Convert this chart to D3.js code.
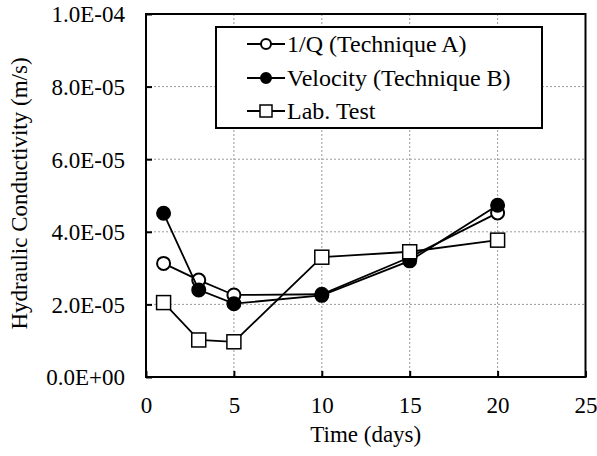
<!DOCTYPE html>
<html>
<head>
<meta charset="utf-8">
<script src="https://cdn.jsdelivr.net/npm/d3@7"></script>
<style>
  body { margin: 0; background: #fff; }
  svg text { font-family: "Liberation Serif", "Times New Roman", serif; fill: #000; }
</style>
</head>
<body>
<div id="chart"></div>
<script>
// data
var days = [1, 3, 5, 10, 15, 20];
var techA = [3.13e-5, 2.67e-5, 2.26e-5, 2.28e-5, 3.30e-5, 4.52e-5];  // 1/Q
var techB = [4.51e-5, 2.40e-5, 2.02e-5, 2.25e-5, 3.20e-5, 4.73e-5];  // velocity
var labTest = [2.05e-5, 1.02e-5, 0.97e-5, 3.30e-5, 3.45e-5, 3.77e-5];
var xTicks = [0, 5, 10, 15, 20, 25];
var yTicks = [0, 2e-5, 4e-5, 6e-5, 8e-5, 1e-4];

var seriesNames = ["1/Q (Technique A)", "Velocity (Technique B)", "Lab. Test"];
var seriesData = [techA, techB, labTest];
var markerKind = ["open", "filled", "square"];

var W = 597, H = 456;
var margin = {left: 146, top: 14, right: 11.5, bottom: 79};
var width = W - margin.left - margin.right,
    height = H - margin.top - margin.bottom;

var svg = d3.select("#chart").append("svg")
  .attr("width", W)
  .attr("height", H);

var g = svg.append("g")
  .attr("transform", "translate(" + margin.left + "," + margin.top + ")");

var x = d3.scaleLinear().domain([0, 25]).range([0, width]);
var y = d3.scaleLinear().domain([0, 1e-4]).range([height, 0]);

function sci(d) {
  if (d === 0) return "0.0E+00";
  var s = d.toExponential(1).toUpperCase();   // e.g. 2.0E-5
  var parts = s.split("E");
  var e = parseInt(parts[1], 10);
  var sign = e < 0 ? "-" : "+";
  var abs = Math.abs(e);
  return parts[0] + "E" + sign + (abs < 10 ? "0" + abs : abs);
}

// grid lines
g.append("g").selectAll("line")
  .data(xTicks.filter(function(d) { return d > 0 && d < 25; }))
  .enter().append("line")
  .attr("x1", function(d) { return x(d); })
  .attr("x2", function(d) { return x(d); })
  .attr("y1", 0).attr("y2", height)
  .attr("stroke", "#9a9a9a")
  .attr("stroke-width", 1)
  .attr("stroke-dasharray", "2,2");

g.append("g").selectAll("line")
  .data(yTicks.filter(function(d) { return d > 0 && d < 1e-4; }))
  .enter().append("line")
  .attr("y1", function(d) { return y(d); })
  .attr("y2", function(d) { return y(d); })
  .attr("x1", 0).attr("x2", width)
  .attr("stroke", "#9a9a9a")
  .attr("stroke-width", 1)
  .attr("stroke-dasharray", "2,2");

// axes
var xAxis = g.append("g")
  .attr("transform", "translate(0," + height + ")")
  .call(d3.axisBottom(x).tickValues(xTicks).tickSize(-6).tickSizeOuter(0).tickFormat(d3.format("d")));
xAxis.attr("font-size", null).attr("font-family", null);
xAxis.select(".domain").remove();
xAxis.selectAll("line").attr("stroke", "#000").attr("stroke-width", 2);
xAxis.selectAll("text")
  .attr("y", 36).attr("dy", 0)
  .style("font-size", "23px");

var yAxis = g.append("g")
  .call(d3.axisLeft(y).tickValues(yTicks).tickSize(-6).tickSizeOuter(0).tickFormat(sci));
yAxis.attr("font-size", null).attr("font-family", null);
yAxis.select(".domain").remove();
yAxis.selectAll("line").attr("stroke", "#000").attr("stroke-width", 2);
yAxis.selectAll("text")
  .attr("x", -21).attr("dy", "0.34em")
  .style("font-size", "23px");

// plot frame
g.append("rect")
  .attr("width", width).attr("height", height)
  .attr("fill", "none")
  .attr("stroke", "#000")
  .attr("stroke-width", 2);

// axis titles
svg.append("text")
  .attr("x", margin.left + width / 2)
  .attr("y", 442)
  .attr("text-anchor", "middle")
  .style("font-size", "23px")
  .text("Time (days)");

svg.append("text")
  .attr("transform", "translate(27," + (margin.top + height / 2 - 2) + ") rotate(-90)")
  .attr("text-anchor", "middle")
  .style("font-size", "23px")
  .text("Hydraulic Conductivity (m/s)");

// series
var line = d3.line()
  .x(function(d) { return x(d[0]); })
  .y(function(d) { return y(d[1]); });

function drawMarker(sel, kind, cx, cy, r) {
  if (kind === "square") {
    sel.append("rect")
      .attr("x", cx - r).attr("y", cy - r)
      .attr("width", 2 * r).attr("height", 2 * r)
      .attr("fill", "#fff").attr("stroke", "#000").attr("stroke-width", 1.5);
  } else {
    sel.append("circle")
      .attr("cx", cx).attr("cy", cy).attr("r", r)
      .attr("fill", kind === "filled" ? "#000" : "#fff")
      .attr("stroke", "#000").attr("stroke-width", 2);
  }
}

seriesData.forEach(function(vals, i) {
  var pts = days.map(function(d, j) { return [d, vals[j]]; });
  var sg = g.append("g").attr("class", "series");
  sg.append("path")
    .datum(pts)
    .attr("d", line)
    .attr("fill", "none")
    .attr("stroke", "#000")
    .attr("stroke-width", 1.8);
  pts.forEach(function(p) {
    drawMarker(sg, markerKind[i], x(p[0]), y(p[1]), markerKind[i] === "square" ? 7 : 6.5);
  });
});

// legend
var legend = svg.append("g").attr("transform", "translate(216,27)");
legend.append("rect")
  .attr("width", 326).attr("height", 101)
  .attr("fill", "#fff")
  .attr("stroke", "#000")
  .attr("stroke-width", 2);

var rowY = [17, 51, 84];
seriesNames.forEach(function(name, i) {
  var row = legend.append("g").attr("transform", "translate(0," + rowY[i] + ")");
  row.append("line")
    .attr("x1", 31).attr("x2", 69)
    .attr("stroke", "#000").attr("stroke-width", 1.8);
  drawMarker(row, markerKind[i], 50, 0, markerKind[i] === "square" ? 6 : 5);
  row.append("text")
    .attr("x", 71).attr("dy", "0.34em")
    .style("font-size", "24px")
    .text(name);
});
</script>
</body>
</html>
